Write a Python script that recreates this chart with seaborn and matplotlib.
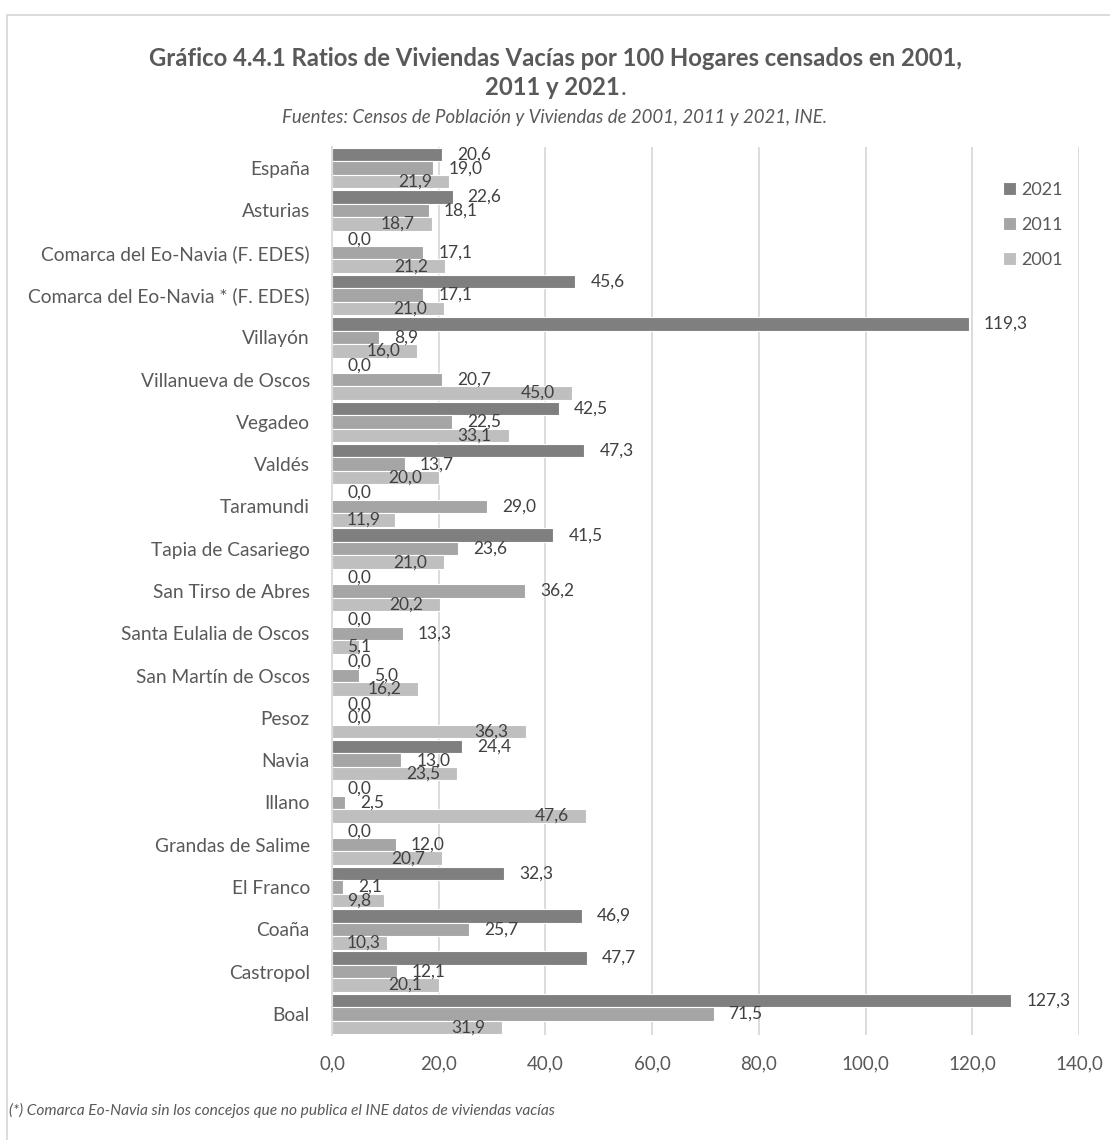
import matplotlib
matplotlib.use("Agg")
import matplotlib.pyplot as plt
from matplotlib.patches import Rectangle
import seaborn as sns
import pandas as pd

# Categories (top to bottom) and ratios of empty dwellings per 100 households
categorias = [
    "España", "Asturias", "Comarca del Eo-Navia (F. EDES)",
    "Comarca del Eo-Navia * (F. EDES)", "Villayón", "Villanueva de Oscos",
    "Vegadeo", "Valdés", "Taramundi", "Tapia de Casariego",
    "San Tirso de Abres", "Santa Eulalia de Oscos", "San Martín de Oscos",
    "Pesoz", "Navia", "Illano", "Grandas de Salime", "El Franco", "Coaña",
    "Castropol", "Boal",
]
v2021 = [20.6, 22.6, 0.0, 45.6, 119.3, 0.0, 42.5, 47.3, 0.0, 41.5, 0.0,
         0.0, 0.0, 0.0, 24.4, 0.0, 0.0, 32.3, 46.9, 47.7, 127.3]
v2011 = [19.0, 18.1, 17.1, 17.1, 8.9, 20.7, 22.5, 13.7, 29.0, 23.6, 36.2,
         13.3, 5.0, 0.0, 13.0, 2.5, 12.0, 2.1, 25.7, 12.1, 71.5]
v2001 = [21.9, 18.7, 21.2, 21.0, 16.0, 45.0, 33.1, 20.0, 11.9, 21.0, 20.2,
         5.1, 16.2, 36.3, 23.5, 47.6, 20.7, 9.8, 10.3, 20.1, 31.9]
anios = ["2021", "2011", "2001"]
x_ticks = [0, 20, 40, 60, 80, 100, 120, 140]

colores = {"2021": "#7f7f7f", "2011": "#a5a5a5", "2001": "#bfbfbf"}
texto = "#595959"
etiqueta = "#404040"

df = pd.DataFrame({
    "Categoria": categorias * 3,
    "Año": ["2021"] * len(categorias) + ["2011"] * len(categorias) + ["2001"] * len(categorias),
    "Valor": v2021 + v2011 + v2001,
})

sns.set_style("white")
plt.rcParams["font.family"] = ["Lato", "DejaVu Sans"]

W, H = 1110, 1140
fig = plt.figure(figsize=(W / 100, H / 100), dpi=100)
ax = fig.add_axes([332 / W, 1 - 1035 / H, (1079 - 332) / W, (1035 - 147) / H])

sns.barplot(data=df, y="Categoria", x="Valor", hue="Año", hue_order=anios,
            order=categorias, orient="h", palette=colores, width=0.96,
            edgecolor="white", linewidth=0.8, ax=ax, legend=True)

ax.set_xlim(0, 140)
ax.set_ylim(len(categorias) - 0.5, -0.5)
ax.set_xticks(x_ticks)
ax.set_xticklabels([f"{t:.1f}".replace(".", ",") for t in x_ticks])
ax.set_xlabel("")
ax.set_ylabel("")
ax.xaxis.grid(True, color="#d9d9d9", linewidth=1.3)
ax.set_axisbelow(True)
for s in ["top", "right", "bottom"]:
    ax.spines[s].set_visible(False)
ax.spines["left"].set_color("#d9d9d9")
ax.spines["left"].set_linewidth(1.3)
ax.tick_params(axis="x", length=0, pad=15, labelsize=13.5, labelcolor=texto)
ax.tick_params(axis="y", length=0, pad=16, labelsize=13.8, labelcolor=texto)

leg = ax.legend(loc="upper right", bbox_to_anchor=(1.0, 0.979), frameon=False,
                fontsize=13, labelcolor=texto, handlelength=0.7,
                handleheight=0.7, handletextpad=0.3, labelspacing=1.05)

# Data labels: 2021 and 2011 outside the bar end, 2001 inside the bar end
px = 72 / 100
fs_lab = 12.5
fig.canvas.draw()
renderer = fig.canvas.get_renderer()
ax_left_px = ax.transData.transform((0, 0))[0]
for anio, cont in zip(anios, ax.containers):
    for bar in cont:
        v = bar.get_width()
        yc = bar.get_y() + bar.get_height() / 2
        lab = f"{v:.1f}".replace(".", ",")
        if anio == "2001":
            t = ax.annotate(lab, (v, yc), xytext=(-17 * px, 0), textcoords="offset points",
                            ha="right", va="center", fontsize=fs_lab, color=etiqueta,
                            annotation_clip=False)
            bb = t.get_window_extent(renderer)
            if bb.x0 < ax_left_px + 15:
                t.set_position((15 * px, 0))
                t.xy = (0, yc)
                t.set_ha("left")
        else:
            ax.annotate(lab, (v, yc), xytext=(15 * px, 0), textcoords="offset points",
                        ha="left", va="center", fontsize=fs_lab, color=etiqueta,
                        annotation_clip=False)

# Titles
fig.text(0.5, 1 - 58 / H, "Gráfico 4.4.1 Ratios de Viviendas Vacías por 100 Hogares censados en 2001,",
         ha="center", va="center", fontsize=17.2, fontweight="bold", color=texto)
y_base2 = 1 - 95 / H
t2 = fig.text(0.5 - 3 / W, y_base2, "2011 y 2021", ha="center", va="baseline",
              fontsize=17.2, fontweight="bold", color=texto)
fig.canvas.draw()
bb2 = t2.get_window_extent(fig.canvas.get_renderer())
fig.text((bb2.x1 + 1) / W, y_base2, ".", ha="left", va="baseline",
         fontsize=17.2, color=texto)
fig.text(0.5, 1 - 117 / H, "Fuentes: Censos de Población y Viviendas de 2001, 2011 y 2021, INE.",
         ha="center", va="center", fontsize=13.4, style="italic", color=texto)

fig.text(9 / W, 1 - 1110 / H,
         "(*) Comarca Eo-Navia sin los concejos que no publica el INE datos de viviendas vacías",
         ha="left", va="center", fontsize=11.2, style="italic", color=texto)

# Chart frame
fig.patches.append(Rectangle((7 / W, -0.05), 1.2, 1 - 15 / H + 0.05,
                             transform=fig.transFigure, fill=False,
                             edgecolor="#d9d9d9", linewidth=1.3))

fig.savefig("out.png", dpi=100, facecolor="white")
